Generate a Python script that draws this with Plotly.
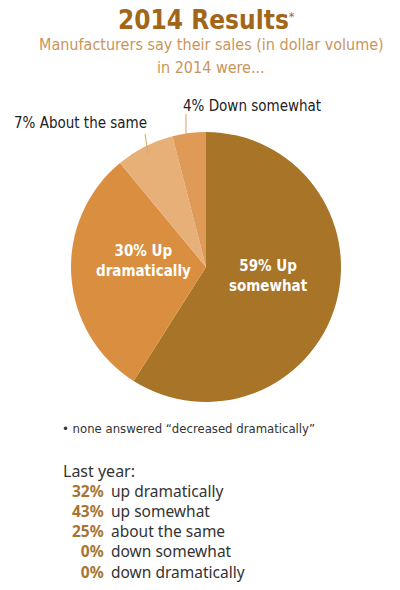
import plotly.graph_objects as go

# data
labels = ["Up somewhat", "Up dramatically", "About the same", "Down somewhat"]
values = [59, 30, 7, 4]
colors = ["#A87428", "#DA8F40", "#E8B079", "#DE9A56"]
pct_text = ["59% Up<br>somewhat", "30% Up<br>dramatically", "7% About the same", "4% Down somewhat"]

last_year_pct = ["32%", "43%", "25%", "0%", "0%"]
last_year_lbl = ["up dramatically", "up somewhat", "about the same", "down somewhat", "down dramatically"]

W, H = 400, 590
def px(x):
    return x / W
def py(y):
    return 1 - y / H

COND = "DejaVu Sans Condensed, Liberation Sans Narrow, Roboto, sans-serif"

fig = go.Figure()
fig.add_trace(go.Pie(
    labels=labels, values=values, sort=False, direction="clockwise", rotation=0,
    marker=dict(colors=colors, line=dict(width=0)),
    textinfo="none",
    domain=dict(x=[px(70), px(342)], y=[py(402), py(132)]),
    showlegend=False, hoverinfo="label+percent",
))

anns = []
anns.append(dict(x=px(207), y=py(20), text="<b>2014 Results</b><span style='font-size:18px'><sup>*</sup></span>", showarrow=False,
                 font=dict(family=COND, size=26, color="#A2661A"), xanchor="center", yanchor="middle"))
anns.append(dict(x=px(211), y=py(44), text="Manufacturers say their sales (in dollar volume)", showarrow=False,
                 font=dict(family=COND, size=16, color="#C9955A"), xanchor="center", yanchor="middle"))
anns.append(dict(x=px(211), y=py(68), text="in 2014 were...", showarrow=False,
                 font=dict(family=COND, size=16, color="#C9955A"), xanchor="center", yanchor="middle"))
# slice labels
anns.append(dict(x=px(268), y=py(276), text="<b>" + pct_text[0] + "</b>", showarrow=False,
                 font=dict(family=COND, size=15, color="white"), xanchor="center", yanchor="middle"))
anns.append(dict(x=px(143), y=py(261), text="<b>" + pct_text[1] + "</b>", showarrow=False,
                 font=dict(family=COND, size=15, color="white"), xanchor="center", yanchor="middle"))
anns.append(dict(x=px(12), y=py(123), text=pct_text[2], showarrow=False,
                 font=dict(family=COND, size=15, color="#222"), xanchor="left", yanchor="middle"))
anns.append(dict(x=px(181), y=py(106), text=pct_text[3], showarrow=False,
                 font=dict(family=COND, size=15, color="#222"), xanchor="left", yanchor="middle"))
anns.append(dict(x=px(60), y=py(428), text="• none answered “decreased dramatically”", showarrow=False,
                 font=dict(family=COND, size=13, color="#333"), xanchor="left", yanchor="middle"))
anns.append(dict(x=px(61), y=py(471), text="Last year:", showarrow=False,
                 font=dict(family="Noto Sans", size=16, color="#333"), xanchor="left", yanchor="middle"))
# last year block as two aligned columns
ymid = (491 + 572) / 2
anns.append(dict(x=px(106), y=py(ymid), text="<br>".join(f"<b>{p}</b>" for p in last_year_pct), showarrow=False,
                 align="right", font=dict(family="Noto Sans", size=15.5, color="#A87430"),
                 xanchor="right", yanchor="middle"))
anns.append(dict(x=px(109), y=py(ymid), text="<br>".join(last_year_lbl), showarrow=False,
                 align="left", font=dict(family="Noto Sans", size=15.5, color="#333"),
                 xanchor="left", yanchor="middle"))

shapes = [
    dict(type="line", xref="paper", yref="paper", x0=px(145), y0=py(134), x1=px(148), y1=py(153),
         line=dict(color="#E0A060", width=1)),
    dict(type="line", xref="paper", yref="paper", x0=px(186), y0=py(114), x1=px(186), y1=py(140),
         line=dict(color="#E0A060", width=1)),
]

fig.update_layout(width=W, height=H, margin=dict(l=0, r=0, t=0, b=0),
                  paper_bgcolor="white", plot_bgcolor="white",
                  annotations=anns, shapes=shapes)
fig.write_html("out.html")
